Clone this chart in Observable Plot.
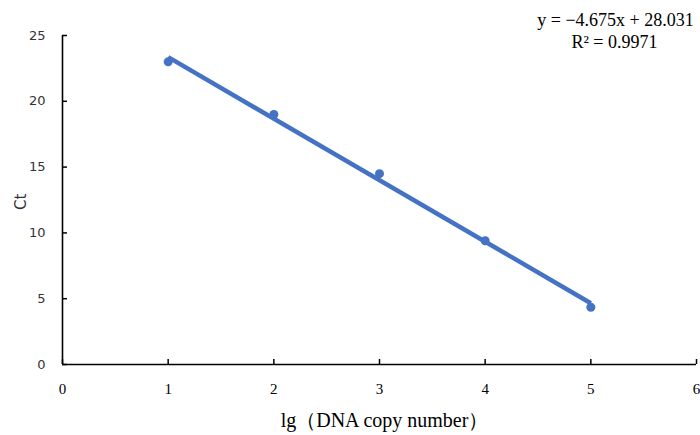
<!DOCTYPE html>
<html>
<head>
<meta charset="utf-8">
<script src="https://cdn.jsdelivr.net/npm/d3@7"></script>
<script src="https://cdn.jsdelivr.net/npm/@observablehq/plot@0.6"></script>
<style>
  html, body { margin: 0; padding: 0; background: #fff; }
  #chart svg { display: block; }
</style>
</head>
<body>
<div id="chart"></div>
<script>
// Data
const lgCopy = [1, 2, 3, 4, 5];
const ctValues = [23.0, 19.0, 14.5, 9.4, 4.35];
const slope = -4.675;
const intercept = 28.031;
const fitRange = [1, 5];
const xTicks = [0, 1, 2, 3, 4, 5, 6];
const yTicks = [0, 5, 10, 15, 20, 25];
const equationText = "y = \u22124.675x + 28.031";
const r2Text = "R\u00B2 = 0.9971";
const xLabel = "lg\uFF08DNA copy number\uFF09";
const yLabel = "Ct";

const points = lgCopy.map((x, i) => ({x, y: ctValues[i]}));
const fit = fitRange.map(x => ({x, y: slope * x + intercept}));

const blue = "#4472C4";
const serif = "Liberation Serif";
const sans = "DejaVu Sans";

const chart = Plot.plot({
  width: 700,
  height: 435,
  marginLeft: 62,
  marginRight: 4,
  marginTop: 35,
  marginBottom: 71,
  style: {background: "#fff", overflow: "visible", fontFamily: "'Liberation Serif', serif"},
  x: {domain: [0, 6], ticks: xTicks, tickFormat: d3.format("d")},
  y: {domain: [0, 25], ticks: yTicks, tickFormat: d3.format("d")},
  marks: [
    // inward tick marks
    Plot.axisX({ticks: xTicks, tickSize: -5, text: null, stroke: "#000", strokeWidth: 1.5, label: null}),
    Plot.axisY({ticks: yTicks, tickSize: -5, text: null, stroke: "#000", strokeWidth: 1.5, label: null}),
    // tick labels
    Plot.axisX({ticks: xTicks, tickSize: 0, tickPadding: 19, tickFormat: d3.format("d"), fontFamily: serif, fontSize: 15, fill: "#000", label: null}),
    Plot.axisY({ticks: yTicks, tickSize: 0, tickPadding: 17, tickFormat: d3.format("d"), fontFamily: sans, fontSize: 13, fill: "#333", label: null}),
    // axis lines
    Plot.ruleX([0], {stroke: "#000", strokeWidth: 1.6}),
    Plot.ruleY([0], {stroke: "#000", strokeWidth: 1.6}),
    // trend line and points
    Plot.line(fit, {x: "x", y: "y", stroke: blue, strokeWidth: 4.5, strokeLinecap: "butt"}),
    Plot.dot(points, {x: "x", y: "y", r: 4.5, fill: blue, stroke: null}),
    // labels
    Plot.text([xLabel], {frameAnchor: "bottom", dx: 5, dy: 62, lineAnchor: "bottom", fontFamily: serif, fontSize: 20, fill: "#000", text: d => d}),
    Plot.text([yLabel], {frameAnchor: "left", dx: -41, dy: 10, rotate: -90, fontFamily: sans, fontSize: 15, fill: "#333", text: d => d}),
    Plot.text([equationText], {frameAnchor: "top-right", dx: -81, dy: -10, lineAnchor: "bottom", textAnchor: "middle", fontFamily: serif, fontSize: 18, fill: "#000", text: d => d}),
    Plot.text([r2Text], {frameAnchor: "top-right", dx: -82, dy: 12, lineAnchor: "bottom", textAnchor: "middle", fontFamily: serif, fontSize: 18, fill: "#000", text: d => d})
  ]
});
document.getElementById("chart").appendChild(chart);
</script>
</body>
</html>
